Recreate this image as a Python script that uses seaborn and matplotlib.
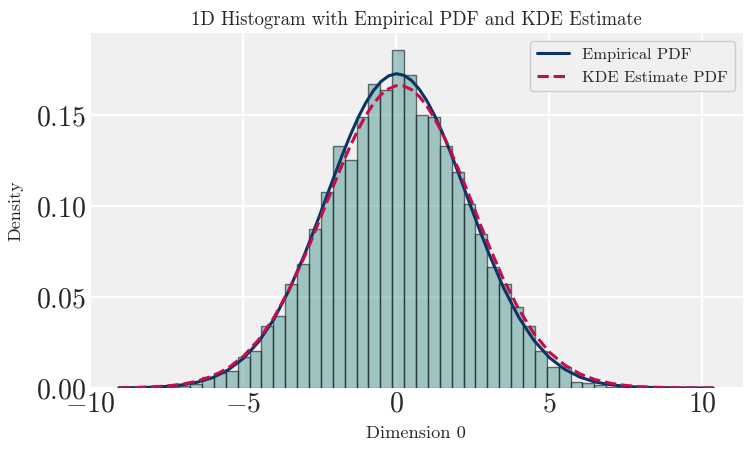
import numpy as np
import pandas as pd
import matplotlib
matplotlib.use("Agg")
import matplotlib.pyplot as plt
from matplotlib.ticker import FuncFormatter, FixedLocator
import seaborn as sns

# ---------------- data ----------------
data_min = -9.07
data_max = 10.36
n_bins = 50

# histogram bar heights (density), bin 0 .. bin 49
bar_density = [
    0.0003, 0.0000, 0.0003, 0.0003, 0.0005,
    0.0009, 0.0024, 0.0060, 0.0082, 0.0095,
    0.0170, 0.0205, 0.0342, 0.0397, 0.0571,
    0.0681, 0.0873, 0.1081, 0.1334, 0.1257,
    0.1491, 0.1674, 0.1641, 0.1861, 0.1725,
    0.1504, 0.1491, 0.1334, 0.1191, 0.1012,
    0.0845, 0.0664, 0.0571, 0.0446, 0.0342,
    0.0205, 0.0115, 0.0115, 0.0033, 0.0027,
    0.0016, 0.0007, 0.0005, 0.0003, 0.0002,
    0.0000, 0.0002, 0.0000, 0.0000, 0.0002,
]

curve_x = [-9.07, -8.5, -8.0, -7.5, -7.0, -6.5, -6.0, -5.5, -5.0, -4.5,
           -4.0, -3.5, -3.0, -2.75, -2.5, -2.25, -2.0, -1.75, -1.5, -1.25,
           -1.0, -0.75, -0.5, -0.25, 0.0, 0.25, 0.5, 0.75, 1.0, 1.25,
           1.5, 1.75, 2.0, 2.25, 2.5, 2.75, 3.0, 3.5, 4.0, 4.5,
           5.0, 5.5, 6.0, 6.5, 7.0, 7.5, 8.0, 8.5, 9.0, 9.5,
           10.0, 10.36]

empirical_pdf = [0.0001, 0.0002, 0.0004, 0.0009, 0.0017, 0.0032, 0.0057, 0.0099, 0.0162, 0.0254,
                 0.0378, 0.0540, 0.0734, 0.0841, 0.0952, 0.1066, 0.1179, 0.1289, 0.1392, 0.1487,
                 0.1569, 0.1636, 0.1687, 0.1718, 0.1730, 0.1721, 0.1693, 0.1645, 0.1581, 0.1501,
                 0.1408, 0.1306, 0.1197, 0.1084, 0.0970, 0.0858, 0.0751, 0.0554, 0.0390, 0.0262,
                 0.0168, 0.0103, 0.0060, 0.0033, 0.0018, 0.0009, 0.0004, 0.0002, 0.0001, 0.00004,
                 0.00001, 0.00001]

kde_pdf = [0.0001, 0.0003, 0.0006, 0.0011, 0.0021, 0.0038, 0.0066, 0.0109, 0.0174, 0.0265,
           0.0387, 0.0541, 0.0723, 0.0823, 0.0926, 0.1031, 0.1135, 0.1237, 0.1333, 0.1421,
           0.1499, 0.1564, 0.1614, 0.1647, 0.1664, 0.1662, 0.1642, 0.1605, 0.1552, 0.1484,
           0.1405, 0.1315, 0.1217, 0.1115, 0.1010, 0.0900, 0.0795, 0.0600, 0.0435, 0.0300,
           0.0198, 0.0127, 0.0078, 0.0046, 0.0026, 0.0014, 0.0007, 0.0004, 0.0002, 0.0001,
           0.00003, 0.00002]

title = "1D Histogram with Empirical PDF and KDE Estimate"
x_label = "Dimension 0"
y_label = "Density"
x_ticks = [-10, -5, 0, 5, 10]
y_ticks = [0.00, 0.05, 0.10, 0.15]

# ---------------- style ----------------
sns.set_style("darkgrid", {
    "axes.facecolor": "#f0f0f0",
    "grid.color": "white",
    "axes.edgecolor": "#f0f0f0",
    "figure.facecolor": "white",
})
plt.rcParams["font.family"] = ["cmr10", "DejaVu Serif"]
plt.rcParams["mathtext.fontset"] = "cm"
plt.rcParams["axes.formatter.use_mathtext"] = True
plt.rcParams["grid.linewidth"] = 1.6

edges = np.linspace(data_min, data_max, n_bins + 1)
centers = (edges[:-1] + edges[1:]) / 2
hist_df = pd.DataFrame({"center": centers, "density": bar_density})
curve_df = pd.DataFrame({"x": curve_x, "emp": empirical_pdf, "kde": kde_pdf})

fig = plt.figure(figsize=(7.53, 4.54), dpi=100)
ax = fig.add_axes([0.1182, 0.1454, 0.8685, 0.7819])

sns.histplot(data=hist_df, x="center", weights="density", bins=edges.tolist(), stat="count",
             color="#509894", alpha=0.5, edgecolor=(0.05, 0.1, 0.1, 0.6), linewidth=1.0, ax=ax)

sns.lineplot(data=curve_df, x="x", y="emp", color="#0a3563", linewidth=2.2,
             label="Empirical PDF", ax=ax)
sns.lineplot(data=curve_df, x="x", y="kde", color="#c60c4a", linewidth=2.2,
             linestyle="--", label="KDE Estimate PDF", ax=ax)

ax.set_xlim(data_min - 0.05 * (data_max - data_min), data_max + 0.05 * (data_max - data_min))
ax.set_ylim(0, max(bar_density) * 1.05)

ax.xaxis.set_major_locator(FixedLocator(x_ticks))
ax.yaxis.set_major_locator(FixedLocator(y_ticks))
ax.xaxis.set_major_formatter(FuncFormatter(lambda v, p: r"$%g$" % v))
ax.yaxis.set_major_formatter(FuncFormatter(lambda v, p: r"$%.2f$" % v))
ax.tick_params(axis="both", labelsize=20, length=0, pad=2)

ax.set_title(title, fontsize=13.5, pad=6)
ax.set_xlabel(x_label, fontsize=13.2, labelpad=6)
ax.set_ylabel(y_label, fontsize=13, labelpad=2)
ax.yaxis.set_label_coords(-0.1, 0.5)

leg = ax.legend(loc="upper right", fontsize=11.8, frameon=True, facecolor="#f0f0f0",
                edgecolor="#cccccc", framealpha=1.0)

for s in ax.spines.values():
    s.set_visible(False)

fig.savefig("out.png", dpi=100)
